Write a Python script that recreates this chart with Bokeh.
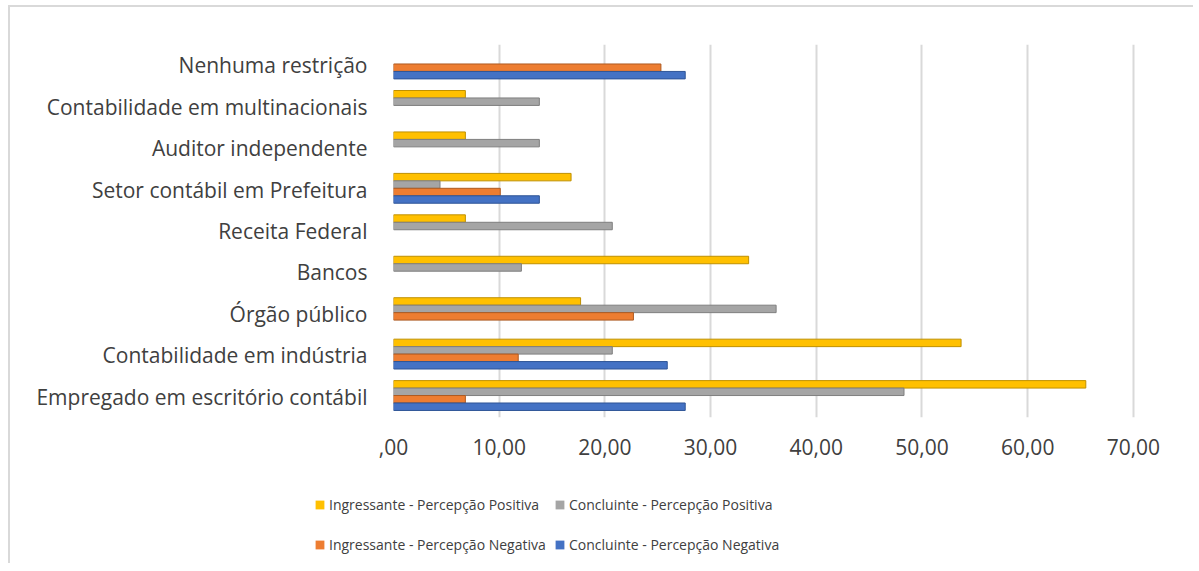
from bokeh.plotting import figure
from bokeh.layouts import column
from bokeh.models import FactorRange, Range1d, ColumnDataSource, Legend, LegendItem, FixedTicker
from bokeh.transform import dodge
from bokeh.embed import file_html
from bokeh.resources import INLINE

categories = ["Empregado em escritório contábil", "Contabilidade em indústria", "Órgão público",
              "Bancos", "Receita Federal", "Setor contábil em Prefeitura", "Auditor independente",
              "Contabilidade em multinacionais", "Nenhuma restrição"]
ingressante_positiva = [65.5, 53.7, 17.7, 33.6, 6.8, 16.8, 6.8, 6.8, 0]
concluinte_positiva = [48.3, 20.7, 36.2, 12.1, 20.7, 4.4, 13.8, 13.8, 0]
ingressante_negativa = [6.8, 11.8, 22.7, 0, 0, 10.1, 0, 0, 25.3]
concluinte_negativa = [27.6, 25.9, 0, 0, 0, 13.8, 0, 0, 27.6]
series_names = ["Ingressante - Percepção Positiva", "Concluinte - Percepção Positiva",
                "Ingressante - Percepção Negativa", "Concluinte - Percepção Negativa"]
tick_values = [0, 10, 20, 30, 40, 50, 60, 70]
tick_labels = [",00", "10,00", "20,00", "30,00", "40,00", "50,00", "60,00", "70,00"]

FONT = "Open Sans"
TXT = "#404040"
W = 1183

p = figure(width=W, height=463, output_backend="svg", toolbar_location=None,
           y_range=FactorRange(*categories, range_padding=0, factor_padding=0),
           x_range=Range1d(0, 72),
           min_border_left=383, min_border_top=37, min_border_bottom=53, min_border_right=39)
p.outline_line_color = None
p.ygrid.grid_line_color = None
p.xgrid.grid_line_color = "#d9d9d9"
p.xgrid.grid_line_width = 2
p.xaxis.ticker = FixedTicker(ticks=tick_values)
p.xaxis.major_label_overrides = {v: l for v, l in zip(tick_values, tick_labels)}
for ax in (p.xaxis, p.yaxis):
    ax.axis_line_color = None
    ax.major_tick_line_color = None
    ax.minor_tick_line_color = None
    ax.major_label_text_font = FONT
    ax.major_label_text_color = TXT
    ax.major_label_text_font_size = "21px"
p.xaxis.major_tick_out = 0
p.xaxis.major_label_standoff = 21
p.yaxis.major_tick_out = 0
p.yaxis.major_label_standoff = 26

series = [ingressante_positiva, concluinte_positiva, ingressante_negativa, concluinte_negativa]
fills = ["#FFC000", "#A5A5A5", "#ED7D31", "#4472C4"]
edges = ["#BF9000", "#7F7F7F", "#AE5A21", "#2F5597"]
offsets = [0.30, 0.12, -0.06, -0.24]
for vals, fc, ec, off in zip(series, fills, edges, offsets):
    cats = [c for c, v in zip(categories, vals) if v > 0]
    vs = [v for v in vals if v > 0]
    src = ColumnDataSource(dict(cat=cats, val=vs))
    p.hbar(y=dodge("cat", off, range=p.y_range), left=0, right="val", height=0.18,
           source=src, fill_color=fc, line_color=ec, line_width=1)

# legend panel (its own small figure; swatches are keyed to renderers that sit outside its view)
lf = figure(width=W, height=93, output_backend="svg", toolbar_location=None,
            x_range=Range1d(0, 1), y_range=Range1d(0, 1),
            min_border_left=304, min_border_right=0, min_border_top=17, min_border_bottom=0)
if hasattr(lf, "frame_align"):
    lf.frame_align = False
lf.axis.visible = False
lf.grid.visible = False
lf.outline_line_color = None
leg_renderers = []
for fc in fills:
    leg_renderers.append(lf.quad(left=[2], right=[3], top=[3], bottom=[2],
                                 fill_color=fc, line_color=None))

legend = Legend(items=[LegendItem(label=n, renderers=[r]) for n, r in zip(series_names, leg_renderers)],
                orientation="horizontal", ncols=2, location="top_left",
                label_text_font=FONT, label_text_font_size="14px", label_text_color=TXT,
                glyph_width=11, glyph_height=11, label_standoff=4, label_width=220,
                label_height=35, spacing=5, padding=0, margin=0,
                border_line_color=None, background_fill_alpha=0)
lf.add_layout(legend, "center")

layout = column(p, lf, spacing=0, margin=(5, 0, 0, 8),
                styles={"border-left": "2px solid #d9d9d9", "border-top": "2px solid #d9d9d9",
                        "border-right": "0px solid transparent", "border-bottom": "0px solid transparent"})
open("out.html", "w").write(file_html(layout, INLINE))
